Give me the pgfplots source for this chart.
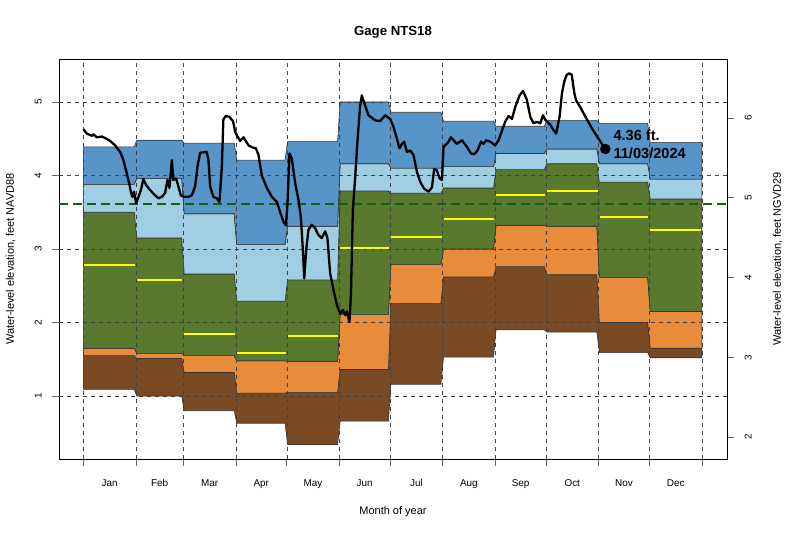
\documentclass[border=0pt]{standalone}
\usepackage{fontspec}
\setmainfont{Liberation Sans}
\usepackage{pgfplots}
\pgfplotsset{compat=1.18}
\usepackage{pgfplotstable}
\usepgfplotslibrary{fillbetween}

\definecolor{bandmax}{RGB}{87,148,199}
\definecolor{band90}{RGB}{160,206,226}
\definecolor{band75}{RGB}{88,121,46}
\definecolor{band25}{RGB}{232,139,58}
\definecolor{band10}{RGB}{122,74,36}
\definecolor{medyel}{RGB}{255,255,0}
\definecolor{refgreen}{RGB}{20,95,20}

\pgfplotstableread{
x min p10 p25 p75 p90 max
0 1.09 1.55 1.65 3.50 3.88 4.39
30 1.09 1.55 1.65 3.50 3.88 4.39
31.5 1.00 1.51 1.58 3.15 3.96 4.48
58 1.00 1.51 1.58 3.15 3.96 4.48
59.5 0.80 1.32 1.55 2.66 3.48 4.44
89 0.80 1.32 1.55 2.66 3.48 4.44
90.5 0.63 1.04 1.48 2.29 3.06 4.21
119 0.63 1.04 1.48 2.29 3.06 4.21
120.5 0.34 1.05 1.47 2.58 3.31 4.46
150 0.34 1.05 1.47 2.58 3.31 4.46
151.5 0.66 1.36 2.11 3.79 4.16 5.00
180 0.66 1.36 2.11 3.79 4.16 5.00
181.5 1.16 2.26 2.79 3.76 4.10 4.86
211 1.16 2.26 2.79 3.76 4.10 4.86
212.5 1.53 2.62 3.00 3.83 4.12 4.74
242 1.53 2.62 3.00 3.83 4.12 4.74
243.5 1.90 2.76 3.32 4.08 4.30 4.67
272 1.90 2.76 3.32 4.08 4.30 4.67
273.5 1.87 2.65 3.31 4.16 4.36 4.75
303 1.87 2.65 3.31 4.16 4.36 4.75
304.5 1.59 2.00 2.61 3.91 4.16 4.71
333 1.59 2.00 2.61 3.91 4.16 4.71
334.5 1.52 1.65 2.15 3.68 3.95 4.45
365 1.52 1.65 2.15 3.68 3.95 4.45
}\bands

\pgfplotstableread{
x y
0.6 2.78
30.4 2.78
nan nan
31.6 2.58
58.4 2.58
nan nan
59.6 1.85
89.4 1.85
nan nan
90.6 1.59
119.4 1.59
nan nan
120.6 1.82
150.4 1.82
nan nan
151.6 3.01
180.4 3.01
nan nan
181.6 3.17
211.4 3.17
nan nan
212.6 3.41
242.4 3.41
nan nan
243.6 3.73
272.4 3.73
nan nan
273.6 3.79
303.4 3.79
nan nan
304.6 3.43
333.4 3.43
nan nan
334.6 3.26
364.4 3.26
}\medians

\pgfplotstableread{
x y
0 4.63
2 4.57
5 4.54
5.9 4.56
7.9 4.52
10.9 4.53
12.8 4.51
15.8 4.47
18.7 4.41
21.7 4.32
23.6 4.21
25.6 4.03
27.2 3.87
28.0 3.78
28.9 3.71
29.9 3.78
31.1 3.62
32.5 3.71
33.9 3.80
35.4 3.95
37.0 3.87
39.4 3.80
42.3 3.73
44.3 3.69
46.3 3.71
48.2 3.76
49.6 3.94
50.8 3.83
52.2 4.21
53.1 3.94
54.7 3.96
56.1 3.85
57.5 3.73
59.4 3.71
62.0 3.71
64.0 3.73
65.9 3.85
67.3 4.12
68.9 4.31
72.8 4.32
73.8 4.21
74.8 3.85
76.7 3.71
78.7 3.69
80.3 3.64
81.7 4.12
82.6 4.76
84.0 4.81
86.0 4.80
88.3 4.74
89.5 4.60
90.5 4.55
92.5 4.47
94.5 4.52
97.4 4.41
100.0 4.38
101.8 4.37
103.3 4.28
105.3 4.00
108.3 3.83
111.2 3.71
114.2 3.64
116.1 3.50
118.1 3.37
119.5 3.32
120.4 3.60
121.6 4.30
123.0 4.23
125.0 3.89
126.9 3.67
128.3 3.44
129.5 2.99
130.3 2.60
131.5 2.99
132.8 3.26
134.8 3.33
136.8 3.28
138.7 3.19
140.7 3.15
142.7 3.24
144.0 3.15
145.6 2.67
147.6 2.44
149.6 2.24
151.5 2.12
153.1 2.17
154.5 2.10
155.5 2.15
157.0 2.01
157.9 2.40
159.0 3.53
160.4 3.98
161.7 4.46
163.3 4.95
164.3 5.09
166.3 4.95
168.2 4.82
172.2 4.75
175.1 4.74
178.1 4.82
181.0 4.77
183.0 4.66
185.0 4.50
186.5 4.37
188.0 4.43
189.3 4.46
190.9 4.32
192.9 4.34
194.8 4.28
196.8 4.05
198.8 3.91
201.1 3.82
203.7 3.78
205.7 3.84
207.0 4.09
208.6 4.07
210.2 3.96
211.6 3.94
212.5 4.39
213.5 4.41
215.5 4.46
216.9 4.52
218.4 4.48
220.4 4.43
223.4 4.48
226.3 4.39
228.7 4.30
230.6 4.29
232.6 4.34
234.6 4.46
236.1 4.43
237.7 4.48
240.1 4.46
243.0 4.41
245.0 4.48
247.0 4.61
248.9 4.73
250.9 4.81
252.9 4.77
254.8 4.93
257.4 5.09
259.4 5.15
261.7 5.03
263.7 4.80
265.6 4.71
267.6 4.73
269.6 4.71
271.2 4.82
272.5 4.76
275.5 4.69
277.4 4.62
279.0 4.57
281.0 4.80
282.4 5.12
283.8 5.28
285.2 5.37
286.7 5.39
288.2 5.37
289.7 5.12
290.8 5.02
293.2 4.93
297.2 4.76
300.1 4.64
304.0 4.50
308.0 4.36
}\daily

\tikzset{gridline/.style={black!75, line width=0.5pt, dash pattern=on 4pt off 4pt}}

\begin{document}
\begin{tikzpicture}
\begin{axis}[
  width=668pt, height=400pt, scale only axis,
  at={(0pt,0pt)}, anchor=south west,
  xmin=-14.4, xmax=379.8, ymin=0.143, ymax=5.585,
  axis line style={line width=0.8pt},
  tick align=outside, major tick length=7pt,
  tick style={black!60, line width=0.6pt},
  tick pos=left,
  xtick={0,31,59,90,120,151,181,212,243,273,304,334,365},
  xticklabels={},
  extra x ticks={15.5,45,74.5,105,135.5,166,196.5,227.5,258,288.5,319,349.5},
  extra x tick labels={Jan,Feb,Mar,Apr,May,Jun,Jul,Aug,Sep,Oct,Nov,Dec},
  extra x tick style={major tick length=0pt},
  xticklabel style={font=\fontsize{9.9}{12}\selectfont, anchor=base, inner sep=0pt},
  xticklabel shift=27.6pt,
  ytick={1,2,3,4,5},
  yticklabel style={rotate=90, anchor=base, inner sep=0pt, font=\fontsize{9.9}{12}\selectfont},
  yticklabel shift=10.4pt,
  /pgf/number format/assume math mode=true,
  every axis x label/.style={at={(axis description cs:0.5,-0.1375)}, anchor=base, font=\fontsize{11}{13}\selectfont},
  xlabel={Month of year},
  every axis y label/.style={at={(axis description cs:-0.0675,0.5)}, rotate=90, anchor=base, font=\fontsize{11}{13}\selectfont},
  ylabel={Water-level elevation, feet NAVD88},
  every axis title/.style={at={(axis description cs:0.5,1.058)}, anchor=base, font=\bfseries\fontsize{13.2}{15}\selectfont},
  title={Gage NTS18},
]
\addplot[name path=pmin, draw=none, forget plot] table[x=x,y=min]{\bands};
\addplot[name path=p10, draw=none, forget plot] table[x=x,y=p10]{\bands};
\addplot[name path=p25, draw=none, forget plot] table[x=x,y=p25]{\bands};
\addplot[name path=p75, draw=none, forget plot] table[x=x,y=p75]{\bands};
\addplot[name path=p90, draw=none, forget plot] table[x=x,y=p90]{\bands};
\addplot[name path=pmax, draw=none, forget plot] table[x=x,y=max]{\bands};

\addplot[fill=band10, draw=black!80, line width=0.6pt] fill between[of=pmin and p10];
\addplot[fill=band25, draw=black!80, line width=0.6pt] fill between[of=p10 and p25];
\addplot[fill=band75, draw=black!80, line width=0.6pt] fill between[of=p25 and p75];
\addplot[fill=band90, draw=black!80, line width=0.6pt] fill between[of=p75 and p90];
\addplot[fill=bandmax, draw=black!80, line width=0.6pt] fill between[of=p90 and pmax];

\pgfplotsinvokeforeach{0,31,59,90,120,151,181,212,243,273,304,334,365}{
  \draw[gridline] (axis cs:#1,0.143) -- (axis cs:#1,5.585);
}
\pgfplotsinvokeforeach{1,2,3,4,5}{
  \draw[gridline] (axis cs:-14.4,#1) -- (axis cs:379.8,#1);
}

\addplot[medyel, line width=2pt, unbounded coords=jump] table[x=x,y=y]{\medians};
\addplot[refgreen, line width=2.5pt, dash pattern=on 9pt off 5pt] coordinates {(-14.4,3.61) (379.8,3.61)};
\addplot[black, line width=2.3pt, line join=round] table[x=x,y=y]{\daily};
\addplot[only marks, mark=*, mark size=5pt, black] coordinates {(308,4.36)};
\node[anchor=west, align=left, inner sep=0pt, xshift=8pt, yshift=5pt, font=\bfseries\fontsize{14.6}{17.7}\selectfont] at (axis cs:308,4.36) {4.36 ft.\\11/03/2024};
\end{axis}

\begin{axis}[
  width=668pt, height=400pt, scale only axis,
  at={(0pt,0pt)}, anchor=south west,
  xmin=-14.4, xmax=379.8, ymin=1.724, ymax=6.74,
  axis x line=none, axis y line*=right,
  axis line style={line width=0.8pt},
  tick align=outside, major tick length=7pt,
  tick style={black!60, line width=0.6pt},
  ytick={2,3,4,5,6},
  yticklabel style={rotate=90, anchor=base, inner sep=0pt, font=\fontsize{9.9}{12}\selectfont},
  yticklabel shift=17.6pt,
  /pgf/number format/assume math mode=true,
  every axis y label/.style={at={(axis description cs:1.0807,0.5)}, rotate=90, anchor=base, font=\fontsize{11}{13}\selectfont},
  ylabel={Water-level elevation, feet NGVD29},
]
\addplot[draw=none] coordinates {(0,2)};
\end{axis}
\pgfresetboundingbox
\useasboundingbox (-59pt,-74pt) rectangle (741pt,459pt);
\end{tikzpicture}
\end{document}
